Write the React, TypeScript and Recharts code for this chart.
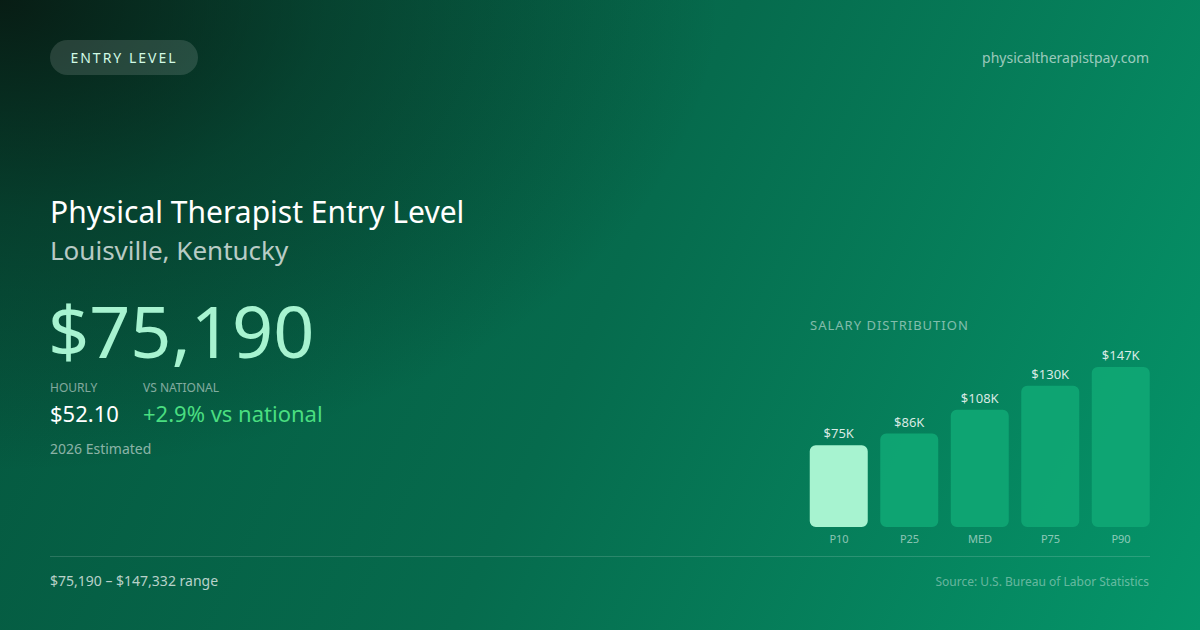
import React from 'react';
import { BarChart, Bar, XAxis, YAxis, LabelList, Cell } from 'recharts';

// percentile data
const percentiles = ['P10', 'P25', 'MED', 'P75', 'P90'];
const salaries = [75190, 86000, 108000, 130000, 147332];

const chartData = percentiles.map((p, i) => ({ name: p, salary: salaries[i] }));

const FONT = '"Noto Sans", "Open Sans", sans-serif';

const kLabel = (v: number) => `$${Math.round(v / 1000)}K`;

const App: React.FC = () => {
  return (
    <div
      style={{
        position: 'fixed',
        top: 0,
        left: 0,
        width: 1200,
        height: 630,
        overflow: 'hidden',
        fontFamily: FONT,
        background:
          'radial-gradient(ellipse 60% 75% at 0% 0%, rgba(8,24,17,0.92) 0%, rgba(8,24,17,0.4) 45%, rgba(8,24,17,0) 100%), linear-gradient(115deg, #05553d 0%, #066b4d 50%, #05966a 100%)',
      }}
    >
      {/* badge */}
      <div
        style={{
          position: 'absolute',
          left: 50,
          top: 40,
          width: 148,
          height: 35,
          borderRadius: 18,
          background: 'rgba(255,255,255,0.13)',
          color: '#d1fae5',
          fontSize: 14,
          letterSpacing: 2,
          lineHeight: '35px',
          textAlign: 'center',
        }}
      >
        ENTRY LEVEL
      </div>
      <div style={{ position: 'absolute', right: 51, top: 48, fontSize: 14, color: 'rgba(255,255,255,0.6)' }}>
        physicaltherapistpay.com
      </div>

      <div style={{ position: 'absolute', left: 50, top: 192, fontSize: 30, color: '#ffffff', lineHeight: '40px' }}>
        Physical Therapist Entry Level
      </div>
      <div style={{ position: 'absolute', left: 50, top: 232, fontSize: 26, color: 'rgba(255,255,255,0.72)', lineHeight: '36px' }}>
        Louisville, Kentucky
      </div>
      <div style={{ position: 'absolute', left: 48, top: 282, fontSize: 72, color: '#a7f3d0', lineHeight: '96px' }}>
        $75,190
      </div>

      <div style={{ position: 'absolute', left: 50, top: 379, fontSize: 12, color: 'rgba(255,255,255,0.5)' }}>HOURLY</div>
      <div style={{ position: 'absolute', left: 143, top: 379, fontSize: 12, color: 'rgba(255,255,255,0.5)' }}>VS NATIONAL</div>
      <div style={{ position: 'absolute', left: 50, top: 398, fontSize: 22, color: '#ffffff', lineHeight: '30px' }}>$52.10</div>
      <div style={{ position: 'absolute', left: 143, top: 398, fontSize: 22, color: '#4ade80', lineHeight: '30px' }}>
        +2.9% vs national
      </div>
      <div style={{ position: 'absolute', left: 50, top: 439, fontSize: 14, color: 'rgba(255,255,255,0.55)' }}>
        2026 Estimated
      </div>

      <div style={{ position: 'absolute', left: 810, top: 316, fontSize: 13, letterSpacing: 1, color: 'rgba(255,255,255,0.5)' }}>
        SALARY DISTRIBUTION
      </div>

      <div style={{ position: 'absolute', left: 780, top: 330 }}>
        <BarChart
          width={400}
          height={230}
          data={chartData}
          margin={{ top: 37, right: 23.75, bottom: 13, left: 23.75 }}
        >
          <XAxis
            dataKey="name"
            axisLine={false}
            tickLine={false}
            height={20}
            interval={0}
            tick={{ fill: 'rgba(255,255,255,0.55)', fontSize: 11, fontFamily: FONT }}
          />
          <YAxis hide domain={[0, 147332]} />
          <Bar dataKey="salary" barSize={58} radius={[6, 6, 6, 6]} isAnimationActive={false}>
            {chartData.map((d, i) => (
              <Cell key={d.name} fill={i === 0 ? '#a7f3d0' : '#10a774'} fillOpacity={i === 0 ? 1 : 0.9} />
            ))}
            <LabelList
              dataKey="salary"
              position="top"
              offset={7}
              formatter={(v: any) => kLabel(Number(v))}
              style={{ fill: 'rgba(255,255,255,0.85)', fontSize: 13, fontFamily: FONT }}
            />
          </Bar>
        </BarChart>
      </div>

      <div style={{ position: 'absolute', left: 50, top: 556, width: 1100, height: 1, background: 'rgba(255,255,255,0.15)' }} />
      <div style={{ position: 'absolute', left: 50, top: 571, fontSize: 14, color: 'rgba(255,255,255,0.72)' }}>
        $75,190 – $147,332 range
      </div>
      <div style={{ position: 'absolute', right: 51, top: 573, fontSize: 12, color: 'rgba(255,255,255,0.4)' }}>
        Source: U.S. Bureau of Labor Statistics
      </div>
    </div>
  );
};

export default App;
